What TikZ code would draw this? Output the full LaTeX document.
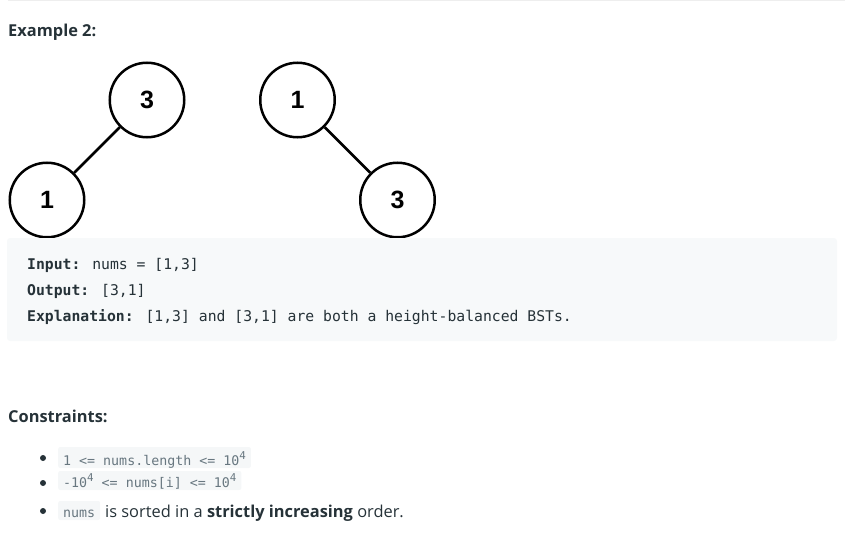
\documentclass[tikz,border=0pt]{standalone}
\usepackage{fontspec}
\setmainfont{Open Sans}
\newfontfamily\codefont{DejaVu Sans Mono}
\newfontfamily\chipfont{DejaVu Sans Mono}
\newfontfamily\digitfont{Liberation Sans}
\definecolor{ink}{HTML}{263238}
\definecolor{codebg}{HTML}{F7F9FA}
\definecolor{chipbg}{HTML}{F5F7F8}
\definecolor{chiptext}{HTML}{687780}
\definecolor{rulegray}{HTML}{EEEEEE}
\newcommand\chipsup[1]{\raisebox{0.42em}{\fontsize{10.8}{10.8}\selectfont #1}}
\tikzset{
  treenode/.style={circle, draw=black, line width=2.5pt, minimum size=74.5pt, inner sep=0pt,
    font=\digitfont\bfseries\fontsize{25}{25}\selectfont},
  treeedge/.style={line width=2.5pt},
  heading/.style={anchor=base west, inner sep=0pt, text=ink, font=\bfseries\fontsize{16.4}{20}\selectfont},
  codeline/.style={anchor=base west, inner sep=0pt, text=ink, font=\codefont\fontsize{14.75}{16}\selectfont},
  bulletdot/.style={circle, fill=ink, minimum size=6pt, inner sep=0pt},
  chip/.style={anchor=base west, fill=chipbg, text=chiptext, inner xsep=5pt, inner ysep=3pt,
    text height=13pt, text depth=0pt, rounded corners=2pt, font=\chipfont\fontsize{13.3}{15}\selectfont},
  bodytext/.style={anchor=base west, inner sep=0pt, text=ink, font=\fontsize{16.4}{19}\selectfont}
}
\begin{document}
\begin{tikzpicture}[x=1pt,y=-1pt]
\useasboundingbox (0,0) rectangle (860,551);
\draw[rulegray, line width=1pt] (8,1) -- (845,1);
\node[heading] (ex) at (8,37) {Example 2:};
% trees
\node[treenode] (a3) at (147,100) {3};
\node[treenode] (a1) at (47,200) {1};
\node[treenode] (b1) at (297.5,100) {1};
\node[treenode] (b3) at (397.5,200) {3};
\draw[treeedge] (a3) -- (a1);
\draw[treeedge] (b1) -- (b3);
% code block
\fill[codebg, rounded corners=3pt] (7,238) rectangle (837,341);
\node[codeline] (in) at (27,269) {\textbf{Input:} nums = [1,3]};
\node[codeline] (out) at (27,295) {\textbf{Output:} [3,1]};
\node[codeline] (expl) at (27,321) {\textbf{Explanation:} [1,3] and [3,1] are both a height-balanced BSTs.};
% constraints
\node[heading] (con) at (8,422) {Constraints:};
\node[bulletdot] (d1) at (43,458) {};
\node[bulletdot] (d2) at (43,483) {};
\node[bulletdot] (d3) at (43,511) {};
\node[chip, text height=15pt] (c1) at (58,465) {1 <= nums.length <= 10\chipsup{4}};
\node[chip] (c2) at (58,487) {-10\chipsup{4} <= nums[i] <= 10\chipsup{4}};
\node[chip] (c3) at (58,517) {nums};
\node[bodytext] (t3) at (105,517) {is sorted in a \textbf{strictly increasing} order.};
\end{tikzpicture}
\end{document}
